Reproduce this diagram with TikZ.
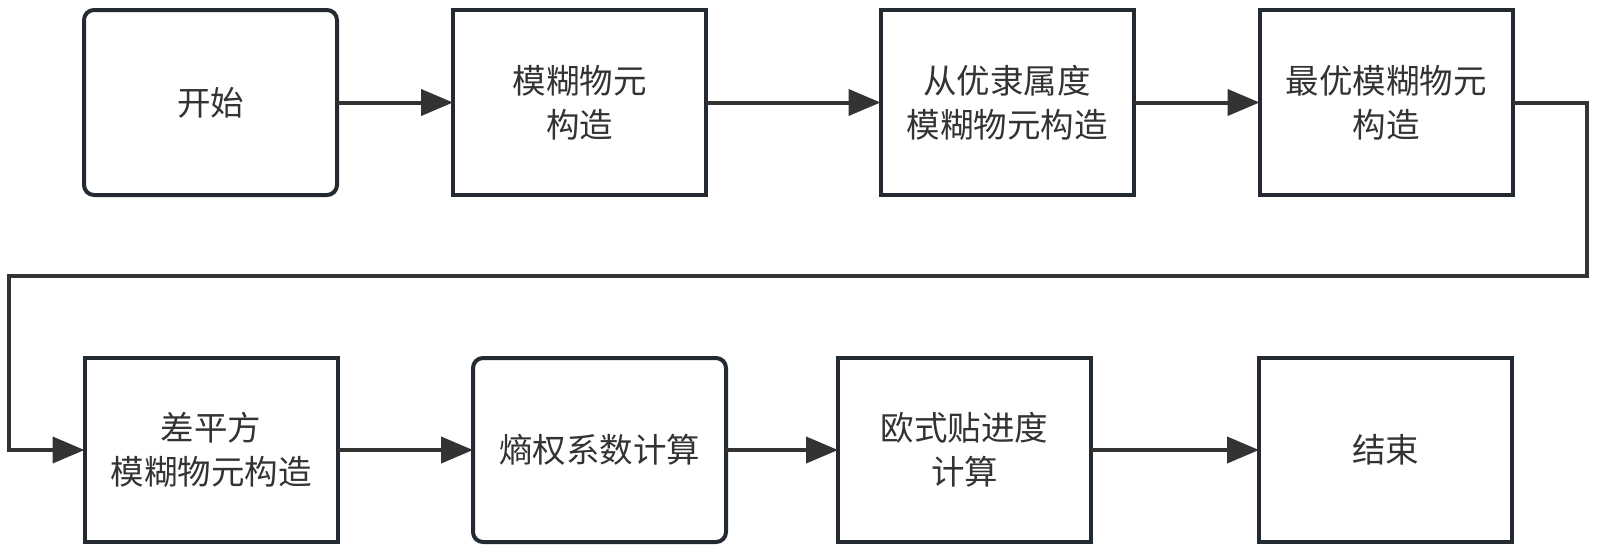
\documentclass[tikz,border=0pt]{standalone}
\usepackage{fontspec}
\setmainfont{Noto Sans CJK SC}
\usetikzlibrary{arrows.meta}
\definecolor{boxc}{HTML}{232A31}
\definecolor{linec}{HTML}{333333}
\definecolor{txt}{HTML}{333333}
\begin{document}
\begin{tikzpicture}[x=1pt,y=-1pt,
 proc/.style={draw=boxc, line width=4pt, fill=white, minimum width=253pt, minimum height=185pt, inner sep=0pt, outer sep=0pt, align=center, font=\fontsize{33.5}{44}\selectfont, text=txt},
 rnd/.style={proc, rounded corners=10pt},
 conn/.style={draw=linec, line width=4pt, -{Triangle[length=32pt,width=26pt]}}]
\useasboundingbox[fill=white] (0,0) rectangle (1600,555);
\node[rnd]  (b1) at (210.5,102.5) {开始};
\node[proc] (b2) at (579.5,102.5) {模糊物元\\构造};
\node[proc] (b3) at (1007,102.5) {从优隶属度\\模糊物元构造};
\node[proc] (b4) at (1386,102.5) {最优模糊物元\\构造};
\node[proc, minimum height=184pt] (b5) at (211,450) {差平方\\模糊物元构造};
\node[rnd, minimum height=184pt]  (b6) at (599.5,450) {熵权系数计算};
\node[proc, minimum height=184pt] (b7) at (964.5,450) {欧式贴进度\\计算};
\node[proc, minimum height=184pt] (b8) at (1385.5,450) {结束};
\coordinate (c1) at (1587,276);
\coordinate (c2) at (9,276);
\draw[conn] (b1) -- (b2);
\draw[conn] (b2) -- (b3);
\draw[conn] (b3) -- (b4);
\draw[conn] (b4.east) -| (c1) -- (c2) |- (b5.west);
\draw[conn] (b5) -- (b6);
\draw[conn] (b6) -- (b7);
\draw[conn] (b7) -- (b8);
\end{tikzpicture}
\end{document}
